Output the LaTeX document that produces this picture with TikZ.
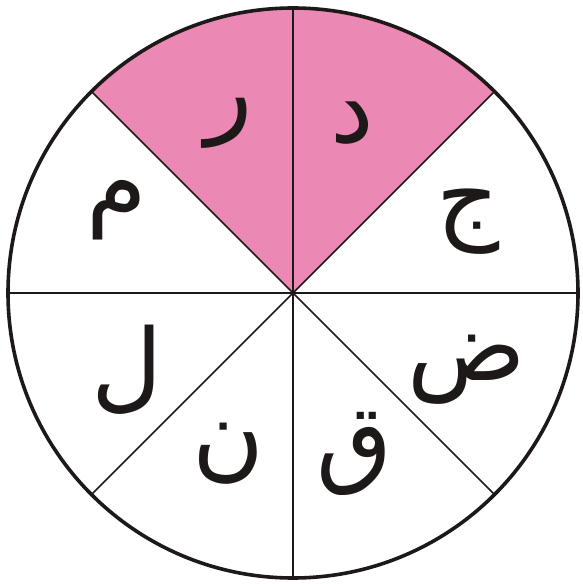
\documentclass[tikz,border=0pt]{standalone}
\usepackage{fontspec}
\newfontfamily\arabicfont[Script=Arabic]{DejaVu Sans}
\TeXXeTstate=1
\definecolor{sectorpink}{RGB}{236,136,180}
\definecolor{inkblack}{RGB}{30,25,25}
\tikzset{
  letter/.style={font=\arabicfont\fontsize{98}{98}\selectfont, inner sep=0pt, text=inkblack},
  spoke/.style={line width=1.6pt, draw=inkblack},
  rim/.style={line width=3.6pt, draw=inkblack}
}
\begin{document}
\begin{tikzpicture}[x=1pt,y=1pt]
  \useasboundingbox (0,0) rectangle (583,584);
  \coordinate (c) at (293,291);
  % pink sectors
  \fill[sectorpink] (c) -- ++(45:285) arc[start angle=45, end angle=135, radius=285] -- cycle;
  % spokes
  \foreach \a in {0,45,...,315}
    \draw[spoke] (c) -- ++(\a:285);
  \draw[rim] (c) circle[radius=285];

  \node[letter] (ra)   at (229,461) {\beginR ر\endR};
  \node[letter] (dal)  at (352,461) {\beginR د\endR};
  \node[letter] (jim)  at (468,362) {\beginR ج\endR};
  \node[letter] (dad)  at (467,214) {\beginR ض\endR};
  \node[letter] (qaf)  at (355,130) {\beginR ق\endR};
  \node[letter] (nun)  at (228,130) {\beginR ن\endR};
  \node[letter] (lam)  at (127,214) {\beginR ل\endR};
  \node[letter] (mim)  at (117,374) {\beginR م\endR};
\end{tikzpicture}
\end{document}
